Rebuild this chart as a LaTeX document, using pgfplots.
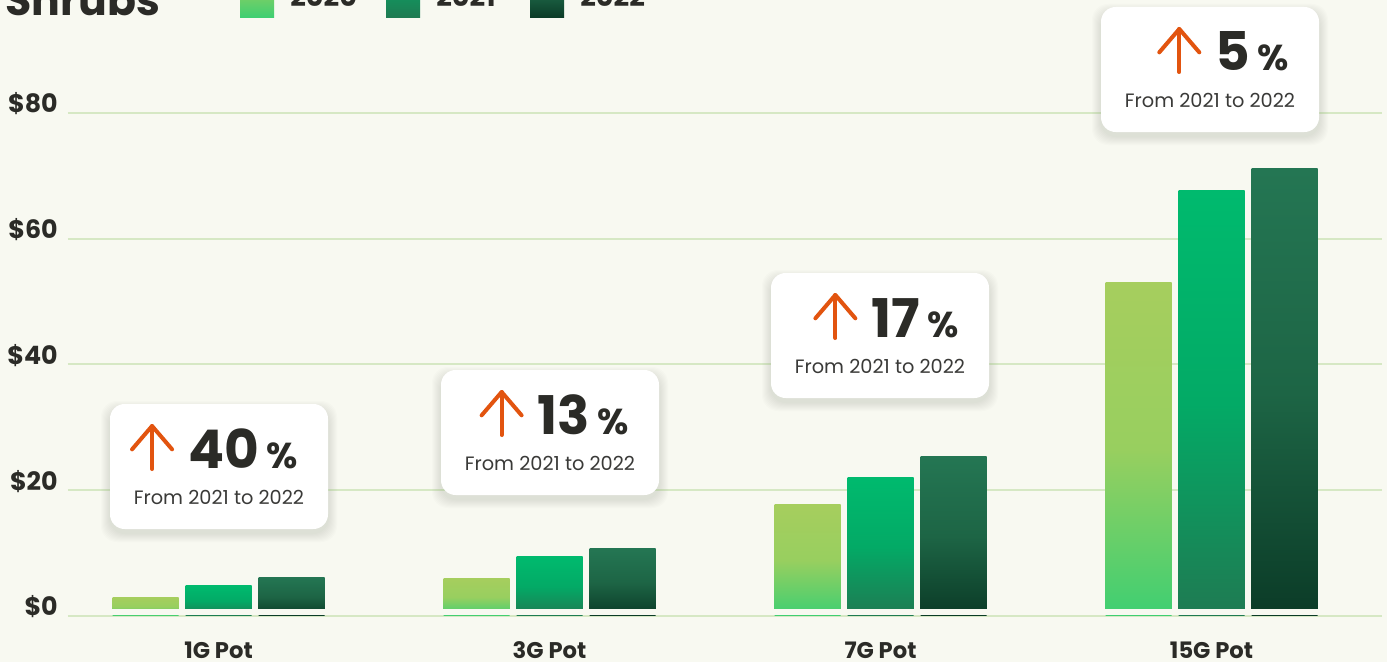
\documentclass[border=0pt]{standalone}
\usepackage{pgfplots}
\pgfplotsset{compat=1.18}
\usepackage{fontspec}
\setmainfont{Poppins}
\definecolor{bgc}{HTML}{F8F9F1}
\definecolor{gridc}{HTML}{D6E8C4}
\definecolor{txt}{HTML}{2B2B27}
\definecolor{sub}{HTML}{3A3A38}
\definecolor{shc}{HTML}{7F8F78}
\definecolor{arrowc}{HTML}{E2540F}
\definecolor{a1}{HTML}{A6CE5E}\definecolor{a2}{HTML}{98CF5F}\definecolor{a3}{HTML}{3ECF72}
\definecolor{b1}{HTML}{00BA6E}\definecolor{b2}{HTML}{03AA66}\definecolor{b3}{HTML}{1F7A52}
\definecolor{c1}{HTML}{247653}\definecolor{c2}{HTML}{1D6545}\definecolor{c3}{HTML}{0B3B27}
\newcommand\PX[2]{({(#1)*0.75pt},{(662-(#2))*0.75pt})}
\newcommand\annot[3]{%
  \foreach \s in {1,...,9} {\fill[shc, opacity=0.022, rounded corners=12pt] \PX{#1-\s}{#2+6-\s} rectangle \PX{#1+218+\s}{#2+125+4+\s};}
  \fill[white, rounded corners=11pt] \PX{#1}{#2} rectangle \PX{#1+218}{#2+125};
  \node[anchor=base east, inner sep=0pt, font=\fontsize{27}{27}\selectfont\bfseries, text=txt] (pc) at \PX{#1+188}{#2+64} {\%};
  \node[anchor=base east, inner sep=0pt, font=\fontsize{40}{40}\selectfont\bfseries, text=txt] (nm) at ([xshift=-5pt]pc.base west) {#3};
  \draw[arrowc, line width=3pt, line cap=round, line join=round] ([shift={(-27pt,-0.75pt)}]nm.base west) -- ([shift={(-27pt,31.5pt)}]nm.base west);
  \draw[arrowc, line width=3pt, line cap=round, line join=round] ([shift={(-42pt,14pt)}]nm.base west) -- ([shift={(-27pt,31.5pt)}]nm.base west) -- ([shift={(-12pt,14pt)}]nm.base west);
  \node[anchor=base, inner sep=0pt, font=\fontsize{14.5}{14.5}\selectfont, text=sub] at \PX{#1+109}{#2+100} {From 2021 to 2022};
}
% one bar per plot so that each bar gets its own vertical gradient
\newcommand\barA[2]{\addplot[draw=none, bar shift=-54.75pt, top color=a1, bottom color=a3, middle color=a2] coordinates {(#1,#2)};}
\newcommand\barB[2]{\addplot[draw=none, bar shift=0pt, top color=b1, bottom color=b3, middle color=b2] coordinates {(#1,#2)};}
\newcommand\barC[2]{\addplot[draw=none, bar shift=54.75pt, top color=c1, bottom color=c3, middle color=c2] coordinates {(#1,#2)};}
\begin{document}
\begin{tikzpicture}
\fill[bgc] (0,0) rectangle (1040.25pt,496.5pt);
\begin{axis}[
  at={(51pt,0pt)}, anchor=south west,
  scale only axis, width=985.5pt, height=496.5pt,
  xmin=-0.4547, xmax=3.515, ymin=-7.32, ymax=97.97,
  ybar, bar width=49.5pt,
  axis line style={draw=none}, major tick length=0pt,
  ymajorgrids, major grid style={gridc, line width=1.5pt},
  ytick={0,20,40,60,80}, yticklabels={\$0,\$20,\$40,\$60,\$80},
  yticklabel style={anchor=base east, inner sep=0pt, xshift=-7.5pt, font=\fontsize{19}{19}\selectfont\bfseries, text=txt},
  xtick={0,1,2,3}, xticklabels={1G Pot,3G Pot,7G Pot,15G Pot},
  xticklabel style={anchor=base, inner sep=0pt, yshift=2.5pt, font=\fontsize{17}{17}\selectfont\bfseries, text=txt},
  clip=false,
]
% 2020
\barA{0}{3.0}\barA{1}{6.0}\barA{2}{17.7}\barA{3}{53.0}
% 2021
\barB{0}{4.8}\barB{1}{9.4}\barB{2}{22.1}\barB{3}{67.6}
% 2022
\barC{0}{6.2}\barC{1}{10.7}\barC{2}{25.4}\barC{3}{71.1}
\end{axis}
\fill[bgc] \PX{68}{608.8} rectangle \PX{1382}{614.8};
\annot{110}{404}{40}
\annot{441}{370}{13}
\annot{771}{273}{17}
\annot{1101}{7}{5}
% legend
\fill[top color=a2, bottom color=a3] \PX{240}{-17} rectangle \PX{274}{17.5};
\fill[top color=b1!60!b3, bottom color=b3] \PX{386}{-17} rectangle \PX{420}{17.5};
\fill[top color=c1, bottom color=c3] \PX{530}{-17} rectangle \PX{564}{17.5};
\node[anchor=base west, inner sep=0pt, font=\fontsize{20.5}{20.5}\selectfont\bfseries, text=txt] at \PX{290}{6.5} {2020};
\node[anchor=base west, inner sep=0pt, font=\fontsize{20.5}{20.5}\selectfont\bfseries, text=txt] at \PX{436}{6.5} {2021};
\node[anchor=base west, inner sep=0pt, font=\fontsize{20.5}{20.5}\selectfont\bfseries, text=txt] at \PX{580}{6.5} {2022};
\node[anchor=base west, inner sep=0pt, font=\fontsize{32}{32}\selectfont\bfseries, text=txt] at \PX{5}{15.5} {Shrubs};
\pgfresetboundingbox
\useasboundingbox (0,0) rectangle (1040.25pt,496.5pt);
\end{tikzpicture}
\end{document}
